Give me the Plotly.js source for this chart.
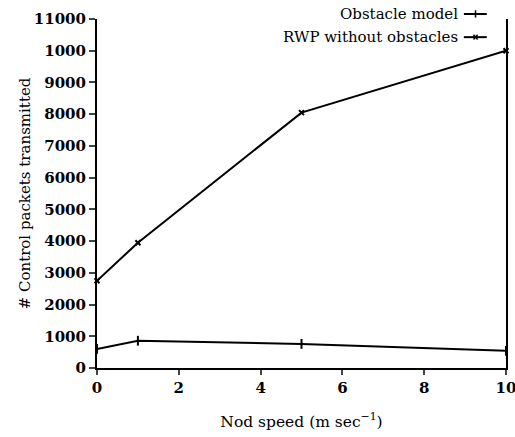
<!DOCTYPE html>
<html>
<head>
<meta charset="utf-8">
<script src="https://cdn.plot.ly/plotly-3.0.1.min.js"></script>
<style>html,body{margin:0;padding:0;background:#fff;}#chart{width:515px;height:437px;}</style>
</head>
<body>
<div id="chart"></div>
<script>
var speeds = [0, 1, 5, 10];
var obstacleModel = [600, 860, 760, 540];
var rwpWithoutObstacles = [2750, 3950, 8050, 10000];
var seriesNames = ["Obstacle model", "RWP without obstacles"];
var yTickVals = [0, 1000, 2000, 3000, 4000, 5000, 6000, 7000, 8000, 9000, 10000, 11000];
var yTickText = ["0", "1000", "2000", "3000", "4000", "5000", "6000", "7000", "8000", "9000", "1000", "11000"];
var xTickVals = [0, 2, 4, 6, 8, 10];
var xTitle = "Nod speed (m sec<sup>\u22121</sup>)";
var yTitle = "# Control packets transmitted";

var fontFam = "DejaVu Serif";

var traces = [
  {x: speeds, y: obstacleModel, name: seriesNames[0], mode: "lines+markers",
   line: {color: "#000", width: 2},
   marker: {symbol: "line-ns", size: 7, color: "#000", line: {color: "#000", width: 2}},
   cliponaxis: false, showlegend: false},
  {x: speeds, y: rwpWithoutObstacles, name: seriesNames[1], mode: "lines+markers",
   line: {color: "#000", width: 2},
   marker: {symbol: "x-thin", size: 5, color: "#000", line: {color: "#000", width: 2}},
   cliponaxis: false, showlegend: false}
];

var layout = {
  width: 515, height: 437,
  margin: {l: 97, r: 9, t: 19, b: 69},
  paper_bgcolor: "#fff", plot_bgcolor: "#fff",
  font: {family: fontFam, color: "#000"},
  showlegend: false,
  xaxis: {
    range: [0, 10], tickvals: xTickVals, ticks: "outside", ticklen: 5, tickwidth: 2,
    showline: true, linewidth: 2, linecolor: "#000", showgrid: false, zeroline: false,
    ticklabeloverflow: "allow",
    tickfont: {family: fontFam, size: 15, color: "#000", weight: "bold"},
    title: {text: xTitle, font: {family: fontFam, size: 15.5, color: "#000"}, standoff: 20}
  },
  yaxis: {
    range: [0, 11000], tickvals: yTickVals, ticktext: yTickText, ticks: "outside", ticklen: 6, tickwidth: 2,
    showline: true, linewidth: 2, linecolor: "#000", mirror: true, showgrid: false, zeroline: false,
    ticklabeloverflow: "allow",
    tickfont: {family: fontFam, size: 15, color: "#000", weight: "bold"},
    title: {text: yTitle, font: {family: fontFam, size: 15, color: "#000"}, standoff: 0}
  },
  annotations: [
    {xref: "paper", yref: "paper", x: 0.8875, y: 1.0143, xanchor: "right", yanchor: "middle", showarrow: false,
     text: seriesNames[0], font: {family: fontFam, size: 15, color: "#000"}},
    {xref: "paper", yref: "paper", x: 0.8875, y: 0.948, xanchor: "right", yanchor: "middle", showarrow: false,
     text: seriesNames[1], font: {family: fontFam, size: 15, color: "#000"}}
  ],
  shapes: [
    {type: "line", xref: "paper", yref: "paper", x0: 0.897, x1: 0.953, y0: 1.0143, y1: 1.0143, line: {color: "#000", width: 2}},
    {type: "line", xref: "paper", yref: "paper", x0: 0.9255, x1: 0.9255, y0: 1.004, y1: 1.025, line: {color: "#000", width: 1.5}},
    {type: "line", xref: "paper", yref: "paper", x0: 0.897, x1: 0.953, y0: 0.948, y1: 0.948, line: {color: "#000", width: 2}},
    {type: "line", xref: "paper", yref: "paper", x0: 0.9205, x1: 0.9305, y0: 0.941, y1: 0.955, line: {color: "#000", width: 1.5}},
    {type: "line", xref: "paper", yref: "paper", x0: 0.9205, x1: 0.9305, y0: 0.955, y1: 0.941, line: {color: "#000", width: 1.5}}
  ]
};

Plotly.newPlot("chart", traces, layout, {displayModeBar: false, staticPlot: true});
</script>
</body>
</html>
